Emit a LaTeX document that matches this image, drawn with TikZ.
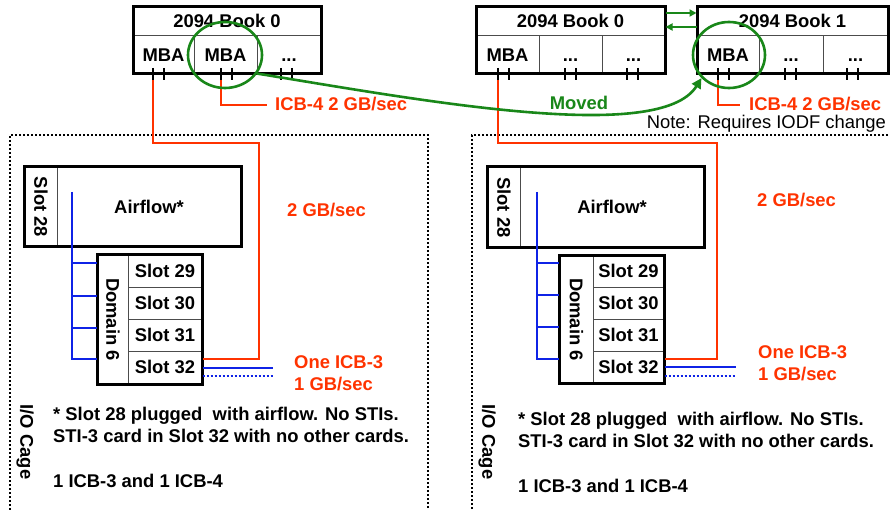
\documentclass[tikz,border=0pt]{standalone}
\usepackage{fontspec}
\setmainfont{Liberation Sans}
\usetikzlibrary{arrows.meta,shapes.geometric}
\definecolor{icbred}{RGB}{255,51,0}
\definecolor{mvgreen}{RGB}{25,135,25}
\definecolor{stiblue}{RGB}{15,35,230}
\begin{document}
\begin{tikzpicture}[x=1pt,y=-1pt,
  lbl/.style={font=\bfseries\fontsize{18.4}{21}\selectfont, inner sep=0pt},
  cell/.style={lbl, draw=black!70, line width=1pt, text height=12.5pt, text depth=0pt},
  frame/.style={draw=black, line width=3pt},
  tick/.style={draw=black, line width=2.4pt},
  redline/.style={draw=icbred, line width=2.5pt},
  blueline/.style={draw=stiblue, line width=2.5pt},
  bluedot/.style={draw=stiblue, line width=2.5pt, dash pattern=on 2pt off 2pt},
  cage/.style={draw=black, line width=2.4pt, dash pattern=on 2pt off 2pt},
  redlbl/.style={lbl, text=icbred},
  blklbl/.style={lbl, text=black},
  ring/.style={ellipse, draw=mvgreen, line width=2.6pt, inner sep=0pt},
  movearrow/.style={draw=mvgreen, line width=2.6pt, -{Triangle[length=10pt,width=10pt]}},
  linkarrow/.style={draw=mvgreen, line width=2.4pt, -{Triangle[length=7pt,width=7pt]}}
]
\useasboundingbox (0,0) rectangle (890,510);
\clip (0,0) rectangle (890,510);
\fill[white] (0,0) rectangle (890,510);

% ---------------- I/O cages (dotted) ----------------
\draw[cage] (428,520) -- (428,135) -- (10,135) -- (10,520);
\draw[cage] (900,135) -- (472,135) -- (472,520);

% ---------------- Left book 0 ----------------
\node[cell, minimum width=188pt, minimum height=29pt] (lbH) at (227,21.5) {2094 Book 0};
\node[cell, minimum width=61pt, minimum height=38pt] (lbA) at (163.5,55) {MBA};
\node[cell, minimum width=63pt, minimum height=38pt] (lbB) at (225.5,55) {MBA};
\node[cell, minimum width=64pt, minimum height=38pt] (lbC) at (289,55) {...};
\draw[frame] (133,7) rectangle (321,74);
\foreach \x in {153,221,281} {
  \draw[tick] (\x,68) -- (\x,80);
  \draw[tick] (\x+11,68) -- (\x+11,80);
}
\coordinate (lt1) at (153,80);
\coordinate (lt2) at (221,80);

% ---------------- Right book 0 ----------------
\node[cell, minimum width=189pt, minimum height=29pt] (rbH) at (570.5,21.5) {2094 Book 0};
\node[cell, minimum width=63pt, minimum height=38pt] (rbA) at (507.5,55) {MBA};
\node[cell, minimum width=63pt, minimum height=38pt] (rbB) at (570.5,55) {...};
\node[cell, minimum width=63pt, minimum height=38pt] (rbC) at (633.5,55) {...};
\draw[frame] (476,7) rectangle (665,74);
\foreach \x in {498,565,627} {
  \draw[tick] (\x,68) -- (\x,80);
  \draw[tick] (\x+11,68) -- (\x+11,80);
}
\coordinate (rt1) at (498,80);

% ---------------- Right book 1 ----------------
\node[cell, minimum width=191pt, minimum height=29pt] (bkH) at (792.5,21.5) {2094 Book 1};
\node[cell, minimum width=62pt, minimum height=38pt] (bkA) at (728,55) {MBA};
\node[cell, minimum width=64pt, minimum height=38pt] (bkB) at (791,55) {...};
\node[cell, minimum width=65pt, minimum height=38pt] (bkC) at (855.5,55) {...};
\draw[frame] (697,7) rectangle (888,74);
\foreach \x in {718,785,847} {
  \draw[tick] (\x,68) -- (\x,80);
  \draw[tick] (\x+11,68) -- (\x+11,80);
}
\coordinate (bt1) at (718,80);

% book-to-book links
\draw[linkarrow] ([yshift=8.5pt]rbH.east) -- ([yshift=8.5pt]bkH.west);
\draw[linkarrow] ([yshift=-5.5pt]bkH.west) -- ([yshift=-5.5pt]rbH.east);

% ---------------- Left cage contents ----------------
\node[cell, rotate=-90, minimum width=80pt, minimum height=33pt] (s28L) at (40.5,207) {Slot 28};
\node[cell, minimum width=184pt, minimum height=80pt] (afL) at (149,207) {Airflow*};
\draw[frame] (24,167) rectangle (241,247);
\node[cell, rotate=-90, minimum width=129pt, minimum height=31pt] (domL) at (112.5,319.5) {Domain 6};
\node[cell, minimum width=74pt, minimum height=32pt] (s29L) at (165,271) {Slot 29};
\node[cell, minimum width=74pt, minimum height=32pt] (s30L) at (165,303) {Slot 30};
\node[cell, minimum width=74pt, minimum height=32pt] (s31L) at (165,335) {Slot 31};
\node[cell, minimum width=74pt, minimum height=33pt] (s32L) at (165,367.5) {Slot 32};
\draw[frame] (97,255) rectangle (202,384);
\coordinate (bvL) at (72,192);
\draw[blueline] (bvL) -- (72,359) -- (domL.south |- 72,359);
\foreach \y in {263,296,328} { \draw[blueline] (72,\y) -- (domL.south |- 72,\y); }
\draw[blueline] (s32L.east |- 0,368) -- (273,368);
\draw[bluedot] (s32L.east |- 0,376) -- (273,376);
\draw[redline] (lt1) -- (153,143) -- (259,143) -- (259,359) -- (s32L.east |- 0,359);
\draw[redline] (lt2) -- (221,105) -- (267,105);

\node[redlbl, anchor=base west] (icb4L) at (275,110.5) {ICB-4 2 GB/sec};
\node[redlbl, anchor=base west] (gbL) at (287,216.5) {2 GB/sec};
\node[redlbl, anchor=base west] (oneL) at (294,368.5) {One ICB-3};
\node[redlbl, anchor=base west] (oneGbL) at (294,390) {1 GB/sec};
\node[blklbl, rotate=-90] (cageL) at (25,442) {I/O Cage};
\node[blklbl, anchor=base west] (n1L) at (53,420) {* Slot 28 plugged\ \ with airflow. No STIs.};
\node[blklbl, anchor=base west] (n2L) at (53,442) {STI-3 card in Slot 32 with no other cards.};
\node[blklbl, anchor=base west] (n3L) at (53,487) {1 ICB-3 and 1 ICB-4};

% ---------------- Right cage contents ----------------
\node[cell, rotate=-90, minimum width=81pt, minimum height=33pt] (s28R) at (503.5,207.5) {Slot 28};
\node[cell, minimum width=184pt, minimum height=81pt] (afR) at (612,207.5) {Airflow*};
\draw[frame] (487,167) rectangle (704,248);
\node[cell, rotate=-90, minimum width=127pt, minimum height=34pt] (domR) at (576,319.5) {Domain 6};
\node[cell, minimum width=71pt, minimum height=31pt] (s29R) at (628.5,271.5) {Slot 29};
\node[cell, minimum width=71pt, minimum height=32pt] (s30R) at (628.5,303) {Slot 30};
\node[cell, minimum width=71pt, minimum height=32pt] (s31R) at (628.5,335) {Slot 31};
\node[cell, minimum width=71pt, minimum height=32pt] (s32R) at (628.5,367) {Slot 32};
\draw[frame] (559,256) rectangle (664,383);
\coordinate (bvR) at (537,192);
\draw[blueline] (bvR) -- (537,359) -- (domR.south |- 537,359);
\foreach \y in {263,295,327} { \draw[blueline] (537,\y) -- (domR.south |- 537,\y); }
\draw[blueline] (s32R.east |- 0,367) -- (736,367);
\draw[bluedot] (s32R.east |- 0,376) -- (736,376);
\draw[redline] (rt1) -- (498,143) -- (717,143) -- (717,359) -- (s32R.east |- 0,359);
\draw[redline] (bt1) -- (718,105) -- (740,105);

\node[redlbl, anchor=base west] (icb4R) at (749,110.5) {ICB-4 2 GB/sec};
\node[lbl, font=\fontsize{18.4}{21}\selectfont, anchor=base east] (noteR) at (886,128.5) {Note: Requires IODF change};
\node[redlbl, anchor=base west] (gbR) at (757,207) {2 GB/sec};
\node[redlbl, anchor=base west] (oneR) at (758,358.5) {One ICB-3};
\node[redlbl, anchor=base west] (oneGbR) at (758,380.5) {1 GB/sec};
\node[blklbl, rotate=-90] (cageR) at (487,442) {I/O Cage};
\node[blklbl, anchor=base west] (n1R) at (518,425) {* Slot 28 plugged\ \ with airflow. No STIs.};
\node[blklbl, anchor=base west] (n2R) at (518,447) {STI-3 card in Slot 32 with no other cards.};
\node[blklbl, anchor=base west] (n3R) at (518,492) {1 ICB-3 and 1 ICB-4};

% ---------------- Green rings and move arrow ----------------
\node[ring, minimum width=74pt, minimum height=66pt] (ringL) at (225,55) {};
\node[ring, minimum width=72pt, minimum height=66pt] (ringR) at (729,55) {};
\draw[movearrow] (ringL.-30) .. controls (420,100) and (660,145) .. (ringR.220);
\node[lbl, text=mvgreen, anchor=base] (moved) at (579,110) {Moved};
\end{tikzpicture}
\end{document}
